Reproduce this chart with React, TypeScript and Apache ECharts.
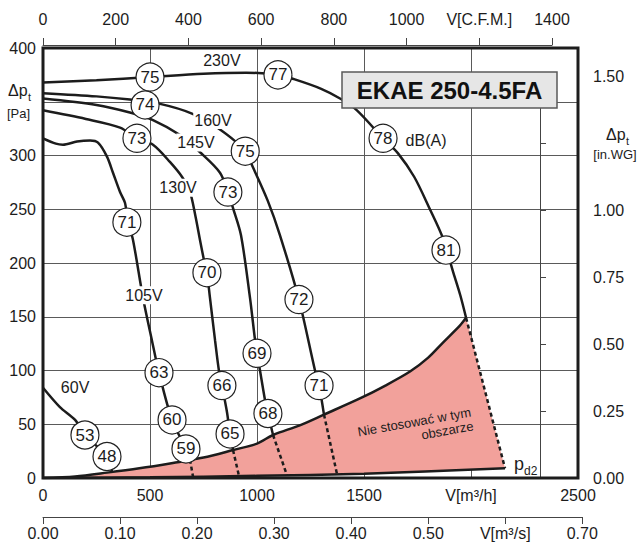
import React, { useEffect, useRef } from "react";
import * as echarts from "echarts";

const FONT = "'Liberation Sans', Arial, Helvetica, sans-serif";
const INK = "#1c1c1c";

// Axis ranges / tick steps
const flowMax = 2500; // m3/h
const flowStep = 500;
const pressMax = 400; // Pa
const pressStep = 50;
const cfmMax = 1400;
const cfmStep = 200;
const m3sMax = 0.7;
const m3sStep = 0.1;
const inwgMax = 1.5;
const inwgStep = 0.25;

// Fan curves [V m3/h, dp Pa]
const curve230V: number[][] = [[0, 368], [250, 370], [500, 373], [750, 376], [950, 377], [1098, 375], [1173, 371], [1300, 362], [1388, 353], [1467, 342], [1589, 316], [1659, 302], [1735, 280], [1808, 250], [1869, 223], [1916, 192], [1950, 170], [1977, 149]];
const curve160V: number[][] = [[0, 358], [250, 355], [406, 352], [547, 348], [696, 339], [813, 326], [906, 312], [945, 304], [981, 289], [1050, 258], [1107, 226], [1196, 166], [1271, 100], [1290, 86], [1313, 59]];
const curve145V: number[][] = [[0, 353], [250, 347], [406, 340], [514, 333], [640, 319], [734, 303], [827, 284], [864, 266], [888, 251], [925, 226], [967, 168], [991, 128], [1000, 116], [1014, 100], [1037, 73], [1051, 60], [1075, 40]];
const curve130V: number[][] = [[0, 342], [200, 334], [360, 326], [439, 316], [514, 310], [593, 294], [650, 280], [687, 266], [712, 244], [734, 221], [752, 203], [766, 191], [780, 168], [804, 128], [822, 100], [836, 86], [860, 61], [874, 41], [888, 26]];
const curve105V: number[][] = [[0, 316], [60, 311], [93, 310], [159, 313], [220, 314], [257, 312], [299, 299], [327, 284], [360, 266], [383, 256], [395, 240], [421, 221], [467, 168], [509, 128], [542, 98], [603, 54], [668, 27], [687, 17]];
const curve60V: number[][] = [[0, 84], [79, 66], [150, 54], [196, 40], [299, 20], [322, 6]];

// Dynamic pressure curves
const pdCurve: number[][] = [[0, 0], [150, 1.5], [299, 5], [450, 9], [607, 14], [750, 19], [888, 26], [1000, 32], [1075, 40], [1200, 49], [1313, 59], [1481, 74], [1600, 86], [1715, 99], [1800, 112], [1869, 126], [1949, 142], [1977, 149]];
const pd2Curve: number[][] = [[0, 0], [500, 0.6], [1000, 2], [1500, 4], [2159, 9]];

// Dotted continuations into the forbidden zone
const dotted105V: number[][] = [[687, 17], [701, 1.2]];
const dotted130V: number[][] = [[888, 26], [916, 1.7]];
const dotted145V: number[][] = [[1075, 40], [1140, 2.6]];
const dotted160V: number[][] = [[1313, 59], [1374, 3.5]];
const dotted230V: number[][] = [[1977, 149], [2159, 9]];

// Noise level markers [V, dp, dB(A)]
const dbMarks: (number | string)[][] = [
  [500, 373, "75"], [1098, 375, "77"], [1589, 316, "78"], [1883, 212, "81"],
  [477, 347, "74"], [945, 304, "75"], [1196, 166, "72"], [1290, 86, "71"],
  [864, 266, "73"], [1000, 116, "69"], [1051, 60, "68"],
  [439, 316, "73"], [766, 191, "70"], [836, 86, "66"], [874, 41, "65"],
  [392, 238, "71"], [542, 98, "63"], [603, 54, "60"], [668, 27, "59"],
  [196, 40, "53"], [299, 20, "48"],
];

// Voltage labels [V, dp, text]
const voltLabels: (number | string)[][] = [
  [836, 388, "230V"], [794, 333, "160V"], [715, 312, "145V"],
  [631, 270, "130V"], [472, 170, "105V"], [150, 84, "60V"],
];
const unitLabel: (number | string)[][] = [[1790, 314, "dB(A)"]];
const zoneLabel: (number | string)[][] = [[2005, 55, "Nie stosować w tym\nobszarze"]];

const lineSeries = (data: number[][], dotted = false) => ({
  type: "line",
  data,
  xAxisIndex: 0,
  yAxisIndex: 0,
  symbol: "none",
  smooth: dotted ? false : 0.3,
  lineStyle: { color: INK, width: 2.5, type: dotted ? [4, 3] : "solid" },
  z: 3,
  silent: true,
});

const textSeries = (data: (number | string)[][], label: any) => ({
  type: "scatter",
  xAxisIndex: 0,
  yAxisIndex: 0,
  data,
  symbol: "circle",
  symbolSize: 0.1,
  z: 6,
  silent: true,
  itemStyle: { color: "#ffffff", opacity: 1 },
  label: {
    show: true,
    position: "inside",
    color: INK,
    opacity: 1,
    textBorderWidth: 0,
    fontFamily: FONT,
    formatter: (p: any) => p.value[2],
    ...label,
  },
});

export default function App() {
  const ref = useRef<HTMLDivElement>(null);
  useEffect(() => {
    if (!ref.current) return;
    const chart = echarts.init(ref.current, undefined, { renderer: "svg" });
    const gl = 43, gt = 48, gw = 535, gh = 430;
    const cfmWidth = (cfmMax * 1.699 * gw) / flowMax;
    const m3sWidth = (m3sMax * 3600 * gw) / flowMax;
    const inwgTop = gt + gh - (inwgMax * 249.089 * gh) / pressMax;
    const axisText = { fontSize: 16, color: INK, fontFamily: FONT };

    const option: any = {
      animation: false,
      backgroundColor: "#fff",
      textStyle: { fontFamily: FONT },
      grid: [
        { left: gl, top: gt, width: gw, height: gh },
        { left: gl, top: 35, width: cfmWidth, height: 10 },
        { left: gl, top: 500, width: m3sWidth, height: 17 },
        { left: 540, top: inwgTop, width: 50, height: gt + gh - inwgTop },
      ],
      xAxis: [
        {
          gridIndex: 0, type: "value", min: 0, max: flowMax, interval: flowStep,
          axisLine: { show: false }, axisTick: { show: false },
          splitLine: { show: true, lineStyle: { color: "#5a5a5a", width: 1 } },
          axisLabel: { ...axisText, margin: 9, formatter: (v: number) => (v === 2000 ? "V[m³/h]" : String(v)) },
        },
        {
          gridIndex: 1, type: "value", position: "top", min: 0, max: cfmMax, interval: cfmStep,
          axisLine: { show: true, lineStyle: { color: "#444", width: 1 } },
          axisTick: { show: true, length: 7, lineStyle: { color: "#444" } },
          splitLine: { show: false },
          axisLabel: { ...axisText, margin: 8, formatter: (v: number) => (v === 1200 ? "V[C.F.M.]" : String(v)) },
        },
        {
          gridIndex: 2, type: "value", position: "bottom", min: 0, max: m3sMax, interval: m3sStep,
          axisLine: { show: true, lineStyle: { color: "#444", width: 1 } },
          axisTick: { show: true, length: 7, lineStyle: { color: "#444" } },
          splitLine: { show: false },
          axisLabel: { ...axisText, margin: 8, formatter: (v: number) => (Math.abs(v - 0.6) < 1e-6 ? "V[m³/s]" : v.toFixed(2)) },
        },
        { gridIndex: 3, type: "value", show: false, min: 0, max: 1 },
      ],
      yAxis: [
        {
          gridIndex: 0, type: "value", min: 0, max: pressMax, interval: pressStep,
          axisLine: { show: false }, axisTick: { show: false },
          splitLine: { show: true, lineStyle: { color: "#5a5a5a", width: 1 } },
          axisLabel: { ...axisText, margin: 7, formatter: (v: number) => (v === 350 ? "" : String(v)) },
        },
        { gridIndex: 1, type: "value", show: false, min: 0, max: 1 },
        { gridIndex: 2, type: "value", show: false, min: 0, max: 1 },
        {
          gridIndex: 3, type: "value", position: "right", min: 0, max: inwgMax, interval: inwgStep,
          axisLine: { show: true, lineStyle: { color: "#444", width: 1 } },
          axisTick: { show: true, length: 6, lineStyle: { color: "#444" } },
          splitLine: { show: false },
          axisLabel: { ...axisText, margin: 3, formatter: (v: number) => (Math.abs(v - 1.25) < 1e-6 ? "" : v.toFixed(2)) },
        },
      ],
      graphic: [
        { type: "rect", z: 100, shape: { x: gl, y: gt, width: gw, height: gh }, style: { fill: "none", stroke: INK, lineWidth: 3 } },
        { type: "rect", z: 100, shape: { x: 342, y: 72, width: 215, height: 36 }, style: { fill: "#e6e6e6", stroke: "#5a5a5a", lineWidth: 1.5 } },
        { type: "text", z: 101, x: 449.5, y: 90, style: { text: "EKAE 250-4.5FA", font: `bold 24px ${FONT}`, fill: "#111", align: "center", verticalAlign: "middle" } },
        { type: "text", z: 101, x: 8, y: 90, style: { text: "Δp", font: `16px ${FONT}`, fill: INK, verticalAlign: "middle" } },
        { type: "text", z: 101, x: 28, y: 97, style: { text: "t", font: `11px ${FONT}`, fill: INK, verticalAlign: "middle" } },
        { type: "text", z: 101, x: 7, y: 113, style: { text: "[Pa]", font: `13px ${FONT}`, fill: INK, verticalAlign: "middle" } },
        { type: "text", z: 101, x: 606, y: 134, style: { text: "Δp", font: `16px ${FONT}`, fill: INK, verticalAlign: "middle" } },
        { type: "text", z: 101, x: 626, y: 141, style: { text: "t", font: `11px ${FONT}`, fill: INK, verticalAlign: "middle" } },
        { type: "text", z: 101, x: 615, y: 154, style: { text: "[in.WG]", font: `13px ${FONT}`, fill: INK, align: "center", verticalAlign: "middle" } },
        { type: "text", z: 101, x: 514, y: 464, style: { text: "p", font: `18px ${FONT}`, fill: INK, verticalAlign: "middle" } },
        { type: "text", z: 101, x: 524, y: 471, style: { text: "d2", font: `12px ${FONT}`, fill: INK, verticalAlign: "middle" } },
      ],
      series: [
        {
          type: "custom",
          xAxisIndex: 0,
          yAxisIndex: 0,
          data: [[0, 0]],
          z: 1,
          silent: true,
          renderItem: (_params: any, api: any) => {
            const top = pdCurve.map((p) => api.coord(p));
            const bottom = pd2Curve.slice().reverse().map((p) => api.coord(p));
            return {
              type: "polygon",
              shape: { points: [...top, ...bottom] },
              style: { fill: "#f2a19b", stroke: "none" },
            };
          },
        },
        lineSeries(pdCurve),
        lineSeries(pd2Curve),
        lineSeries(curve230V),
        lineSeries(curve160V),
        lineSeries(curve145V),
        lineSeries(curve130V),
        lineSeries(curve105V),
        lineSeries(curve60V),
        lineSeries(dotted105V, true),
        lineSeries(dotted130V, true),
        lineSeries(dotted145V, true),
        lineSeries(dotted160V, true),
        lineSeries(dotted230V, true),
        {
          type: "scatter",
          xAxisIndex: 0,
          yAxisIndex: 0,
          data: dbMarks,
          symbol: "circle",
          symbolSize: 28,
          z: 5,
          silent: true,
          itemStyle: { color: "#fff", borderColor: "#222", borderWidth: 1.2, opacity: 1 },
          label: {
            show: true, position: "inside", fontSize: 17, color: INK, fontFamily: FONT,
            formatter: (p: any) => p.value[2],
          },
        },
        textSeries(voltLabels, { fontSize: 16, backgroundColor: "#fff", padding: [1, 1] }),
        textSeries(unitLabel, { fontSize: 16 }),
        textSeries(zoneLabel, { fontSize: 13, align: "right", verticalAlign: "middle", rotate: 10, lineHeight: 14 }),
      ],
    };
    chart.setOption(option);
    return () => chart.dispose();
  }, []);
  return (
    <div
      ref={ref}
      style={{ position: "fixed", left: 0, top: 0, width: 638, height: 544, background: "#fff" }}
    />
  );
}
